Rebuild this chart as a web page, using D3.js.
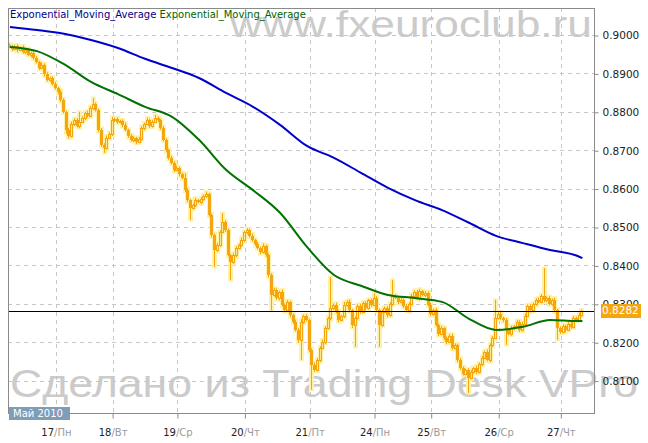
<!DOCTYPE html>
<html>
<head>
<meta charset="utf-8">
<script src="https://cdn.jsdelivr.net/npm/d3@7"></script>
<style>
  body { margin: 0; background: #fff; }
  svg { display: block; }
</style>
</head>
<body>
<div id="chart"></div>
<script>
// hourly bars, closes
const firstOpen = 0.8974
const closes = [
  0.8969, 0.8964, 0.8971, 0.8961, 0.8966, 0.8956, 0.8961, 0.8948, 0.8953, 0.8940,
  0.8930, 0.8914, 0.8922, 0.8898, 0.8883, 0.8888, 0.8872, 0.8862, 0.8852, 0.8831,
  0.8800, 0.8753, 0.8737, 0.8768, 0.8779, 0.8763, 0.8774, 0.8784, 0.8797, 0.8789,
  0.8810, 0.8820, 0.8805, 0.8753, 0.8714, 0.8706, 0.8732, 0.8742, 0.8779, 0.8781,
  0.8774, 0.8776, 0.8766, 0.8753, 0.8737, 0.8727, 0.8732, 0.8721, 0.8729, 0.8758,
  0.8768, 0.8779, 0.8763, 0.8774, 0.8784, 0.8779, 0.8758, 0.8727, 0.8701, 0.8680,
  0.8667, 0.8648, 0.8654, 0.8638, 0.8628, 0.8596, 0.8570, 0.8550, 0.8557, 0.8570,
  0.8565, 0.8573, 0.8581, 0.8586, 0.8531, 0.8479, 0.8440, 0.8453, 0.8487, 0.8513,
  0.8492, 0.8427, 0.8409, 0.8427, 0.8445, 0.8453, 0.8466, 0.8487, 0.8492, 0.8477,
  0.8466, 0.8456, 0.8445, 0.8435, 0.8451, 0.8427, 0.8375, 0.8323, 0.8336, 0.8315,
  0.8331, 0.8297, 0.8284, 0.8305, 0.8271, 0.8253, 0.8232, 0.8206, 0.8253, 0.8268,
  0.8258, 0.8180, 0.8141, 0.8128, 0.8154, 0.8185, 0.8201, 0.8237, 0.8263, 0.8289,
  0.8297, 0.8279, 0.8258, 0.8268, 0.8297, 0.8305, 0.8284, 0.8245, 0.8263, 0.8294,
  0.8279, 0.8302, 0.8289, 0.8310, 0.8297, 0.8315, 0.8284, 0.8245, 0.8279, 0.8289,
  0.8271, 0.8300, 0.8320, 0.8315, 0.8305, 0.8310, 0.8294, 0.8284, 0.8300, 0.8320,
  0.8331, 0.8315, 0.8333, 0.8323, 0.8328, 0.8297, 0.8274, 0.8284, 0.8245, 0.8222,
  0.8237, 0.8211, 0.8201, 0.8216, 0.8185, 0.8193, 0.8154, 0.8133, 0.8117, 0.8128,
  0.8107, 0.8123, 0.8133, 0.8123, 0.8143, 0.8159, 0.8175, 0.8154, 0.8193, 0.8211,
  0.8263, 0.8274, 0.8263, 0.8258, 0.8232, 0.8222, 0.8237, 0.8242, 0.8253, 0.8232,
  0.8248, 0.8268, 0.8294, 0.8284, 0.8300, 0.8310, 0.8305, 0.8320, 0.8310, 0.8315,
  0.8300, 0.8310, 0.8284, 0.8237, 0.8227, 0.8242, 0.8232, 0.8248, 0.8240, 0.8263,
  0.8258, 0.8271, 0.8282
]
// wicks beyond the body, in pips
const upWick = [
  4,6,3,5,4,7,3,5,4,6, 5,3,6,4,5,3,4,6,3,5, 4,3,5,6,4,5,26,4,3,6,
  5,16,4,3,5,4,6,5,8,4, 5,3,4,6,3,5,4,3,6,5, 4,6,3,5,8,4,3,5,4,3,
  5,4,6,3,4,12,5,3,4,6, 3,5,4,6,3,4,5,6,4,23, 5,4,3,6,5,4,7,3,5,4,
  6,3,5,4,6,3,4,5,6,4, 3,6,4,5,3,4,6,5,7,4, 5,3,4,6,5,4,6,5,4,81,
  4,6,5,3,8,4,6,3,4,5, 6,4,5,3,4,12,5,3,6,4, 5,4,42,5,3,6,4,5,3,6,
  4,5,6,3,5,4,6,3,5,4, 6,3,4,5,6,4,3,5,4,3, 4,5,3,6,4,5,3,6,4,5,
  47,4,6,3,5,4,6,3,5,4, 5,6,4,5,3,4,6,5,73,4, 5,4,6,3,4,5,3,6,4,5,
  4,6,3
]
const downWick = [
  3,5,4,6,3,4,5,3,6,4, 4,5,3,6,4,5,3,4,6,5, 4,10,6,3,5,4,6,3,5,4,
  3,5,4,6,5,13,4,3,5,6, 5,4,6,3,5,4,6,5,3,4, 6,3,5,4,3,6,5,4,6,5,
  4,5,3,6,4,5,6,32,4,5, 3,6,4,5,4,6,44,5,4,3, 5,4,47,5,6,3,4,5,6,4,
  4,5,3,6,4,5,6,40,4,5, 6,4,5,3,6,5,4,8,52,5, 4,6,65,5,4,6,3,5,4,6,
  5,4,6,3,5,4,6,8,57,4, 5,3,6,4,5,3,4,57,5,4, 6,4,5,3,6,4,5,3,6,4,
  5,4,6,3,5,4,6,5,4,6, 4,5,6,3,5,4,6,5,4,3, 39,4,5,6,4,5,3,4,6,5,
  3,4,5,6,39,4,5,6,4,5, 4,5,3,6,4,5,3,4,6,5, 4,5,6,31,5,4,6,3,5,4,
  5,3,4
]

// moving averages, sampled at these bars
const emaBars = [0, 10, 20, 30, 40, 50, 60, 70, 80, 90, 100, 110, 120, 130, 140, 150, 160, 170, 180, 190, 200, 210, 212]
const emaBlue = [0.9021, 0.9013, 0.9003, 0.8987, 0.8966, 0.8938, 0.8914, 0.8888, 0.8849, 0.8813, 0.8766, 0.8711,
  0.8680, 0.8641, 0.8602, 0.8570, 0.8544, 0.8511, 0.8477, 0.8458, 0.8440, 0.8425, 0.8419]
const emaGreen = [0.8969, 0.8958, 0.8924, 0.8878, 0.8846, 0.8813, 0.8787, 0.8727, 0.8649, 0.8596, 0.8537, 0.8448,
  0.8375, 0.8347, 0.8323, 0.8315, 0.8305, 0.8261, 0.8232, 0.8240, 0.8258, 0.8255, 0.8255]

const dayBars = [17, 38, 62, 87, 111, 135, 156, 181, 204]
const dayNums = ["17", "18", "19", "20", "21", "24", "25", "26", "27"]
const dayNames = ["Пн", "Вт", "Ср", "Чт", "Пт", "Пн", "Вт", "Ср", "Чт"]
const priceTicks = [0.81, 0.82, 0.83, 0.84, 0.85, 0.86, 0.87, 0.88, 0.89, 0.90]
const lastPrice = 0.8282
const monthLabel = "Май 2010"
const legendNames = ["Exponential_Moving_Average", "Exponential_Moving_Average"]

const width = 648, height = 443
const plot = {left: 8, top: 8, right: 594, bottom: 413}
const orange = "#f5a60f", glow = "#fff1a8"
const blue = "#0000cc", green = "#007200"

const svg = d3.select("#chart").append("svg")
  .attr("width", width).attr("height", height)
  .style("font-family", "'DejaVu Sans', Verdana, sans-serif")

const x = d3.scaleLinear().domain([0, closes.length - 1]).range([10, 582.4])
const y = d3.scaleLinear().domain([0.81, 0.90]).range([380.6, 35])
const px = v => Math.round(v) + 0.5

// watermarks
svg.append("text")
  .attr("x", 230).attr("y", 37)
  .attr("textLength", 362).attr("lengthAdjust", "spacingAndGlyphs")
  .style("font-family", "'Liberation Sans', Arial, sans-serif")
  .style("font-size", "36px").attr("fill", "#cbcbcb")
  .text("www.fxeuroclub.ru")
svg.append("text")
  .attr("x", 10).attr("y", 397)
  .attr("textLength", 628).attr("lengthAdjust", "spacingAndGlyphs")
  .style("font-family", "'Liberation Sans', Arial, sans-serif")
  .style("font-size", "38px").attr("fill", "#cbcbcb")
  .text("Сделано из Trading Desk VPro")

// grid
svg.append("g").selectAll("line").data(priceTicks).enter().append("line")
  .attr("x1", plot.left).attr("x2", plot.right)
  .attr("y1", d => px(y(d))).attr("y2", d => px(y(d)))
  .attr("stroke", "#c6c6c6").attr("stroke-dasharray", "4,4")
svg.append("g").selectAll("line").data(dayBars).enter().append("line")
  .attr("x1", d => px(x(d))).attr("x2", d => px(x(d)))
  .attr("y1", plot.top).attr("y2", plot.bottom)
  .attr("stroke", "#c6c6c6").attr("stroke-dasharray", "4,4")

// build bars
const bars = closes.map((c, i) => {
  const o = i ? closes[i - 1] : firstOpen
  return {i: i, o: o, c: c,
    h: Math.max(o, c) + upWick[i] / 10000,
    l: Math.min(o, c) - downWick[i] / 10000}
})

svg.append("clipPath").attr("id", "clip").append("rect")
  .attr("x", plot.left + 1).attr("y", plot.top + 1)
  .attr("width", plot.right - plot.left - 1).attr("height", plot.bottom - plot.top - 1)

const gBars = svg.append("g").attr("clip-path", "url(#clip)")

// halo
gBars.selectAll(".halo").data(bars).enter().append("rect")
  .attr("class", "halo")
  .attr("x", d => Math.round(x(d.i)) - 3)
  .attr("y", d => y(d.h) - 1.5)
  .attr("width", 5)
  .attr("height", d => y(d.l) - y(d.h) + 3)
  .attr("fill", glow)

// wicks
gBars.selectAll(".wick").data(bars).enter().append("line")
  .attr("class", "wick")
  .attr("x1", d => Math.round(x(d.i)) - 0.5).attr("x2", d => Math.round(x(d.i)) - 0.5)
  .attr("y1", d => y(d.h)).attr("y2", d => y(d.l))
  .attr("stroke", orange)

// bodies: falling bars filled, rising bars hollow
gBars.selectAll(".body").data(bars).enter().append("rect")
  .attr("class", "body")
  .attr("x", d => d.c < d.o ? Math.round(x(d.i)) - 2 : Math.round(x(d.i)) - 1.5)
  .attr("y", d => Math.round(y(Math.max(d.o, d.c))) + (d.c < d.o ? 0 : 0.5))
  .attr("width", d => d.c < d.o ? 3 : 2)
  .attr("height", d => Math.max(1, Math.round(Math.abs(y(d.o) - y(d.c)))))
  .attr("fill", d => d.c < d.o ? orange : "#ffe79a")
  .attr("stroke", d => d.c < d.o ? "none" : orange)

// moving averages
const line = d3.line()
  .x((d, k) => x(emaBars[k]))
  .y(d => y(d))
  .curve(d3.curveMonotoneX)
svg.append("path").datum(emaBlue).attr("d", line)
  .attr("fill", "none").attr("stroke", blue).attr("stroke-width", 2)
svg.append("path").datum(emaGreen).attr("d", line)
  .attr("fill", "none").attr("stroke", green).attr("stroke-width", 2)

// last price line
svg.append("line")
  .attr("x1", plot.left).attr("x2", plot.right)
  .attr("y1", px(y(lastPrice))).attr("y2", px(y(lastPrice)))
  .attr("stroke", "#000")

// frame
svg.append("rect")
  .attr("x", plot.left + 0.5).attr("y", plot.top + 0.5)
  .attr("width", plot.right - plot.left).attr("height", plot.bottom - plot.top)
  .attr("fill", "none").attr("stroke", "#8a8a8a")

// right axis
const yAxis = svg.append("g")
  .attr("transform", "translate(" + (plot.right + 0.5) + ",0.5)")
  .call(d3.axisRight(y).tickValues(priceTicks).tickFormat(d3.format(".4f")).tickSize(4).tickPadding(4))
yAxis.select(".domain").remove()
yAxis.selectAll("line").attr("stroke", "#8a8a8a")
yAxis.selectAll("text").attr("fill", "#222").style("font-size", "10.5px")
  .style("font-family", "'DejaVu Sans', Verdana, sans-serif")

// last price tag
const tagY = y(lastPrice)
svg.append("rect").attr("x", 601).attr("y", Math.round(tagY) - 7)
  .attr("width", 40).attr("height", 14).attr("fill", orange)
svg.append("text").attr("x", 602).attr("y", tagY).attr("dy", "0.35em")
  .attr("fill", "#fff").style("font-size", "10.5px").text(d3.format(".4f")(lastPrice))

// bottom axis
const xAxis = svg.append("g")
  .attr("transform", "translate(0," + (plot.bottom + 0.5) + ")")
  .call(d3.axisBottom(x).tickValues(dayBars).tickSize(5).tickPadding(10).tickFormat(""))
xAxis.select(".domain").remove()
xAxis.selectAll("line").attr("stroke", "#8a8a8a")
xAxis.selectAll(".tick").each(function(d, k) {
  const t = d3.select(this).select("text")
    .style("font-size", "10px").style("font-family", "'DejaVu Sans', Verdana, sans-serif")
  t.append("tspan").attr("fill", "#222").text(dayNums[k])
  t.append("tspan").attr("fill", "#9a9a9a").text("/" + dayNames[k])
})

// month tag
svg.append("rect").attr("x", 9).attr("y", 407).attr("width", 61).attr("height", 13).attr("fill", "#7f9cb8")
svg.append("text").attr("x", 13).attr("y", 417).attr("fill", "#fff")
  .style("font-size", "10px").text(monthLabel)

// legend
const legend = svg.append("text").attr("x", 10).attr("y", 18).style("font-size", "10px")
legend.append("tspan").attr("fill", "#00008c").text(legendNames[0] + " ")
legend.append("tspan").attr("fill", "#006400").text(legendNames[1])
</script>
</body>
</html>
